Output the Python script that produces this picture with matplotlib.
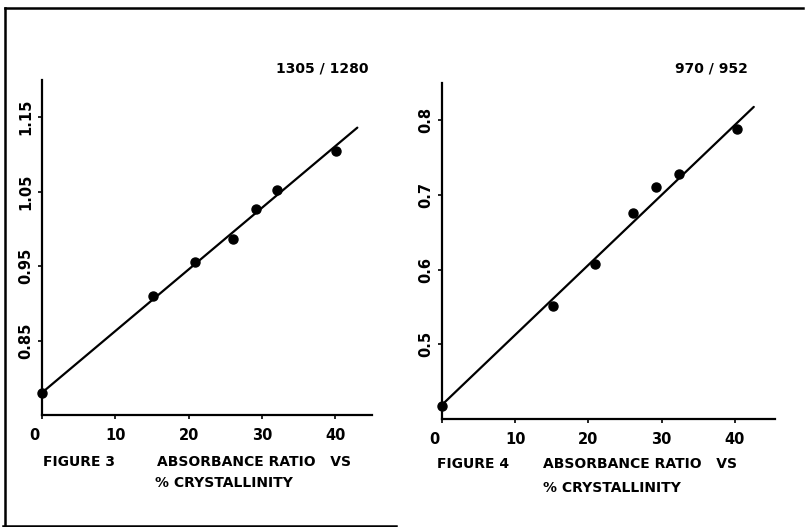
import matplotlib
matplotlib.use("Agg")
import matplotlib.pyplot as plt
import matplotlib.transforms as mtransforms
from matplotlib.lines import Line2D

plt.rcParams['font.family'] = ['DejaVu Sans']

# Figure 3: absorbance ratio 1305/1280 vs % crystallinity
fig3_x = [0, 15.1, 20.8, 26.1, 29.2, 32.0, 40.1]
fig3_y = [0.780, 0.910, 0.956, 0.987, 1.027, 1.052, 1.105]
fig3_fit_x = [0, 43.0]
fig3_fit_y = [0.780, 1.136]
fig3_yticks = [0.85, 0.95, 1.05, 1.15]
fig3_title = "1305 / 1280"

# Figure 4: absorbance ratio 970/952 vs % crystallinity
fig4_x = [0, 15.1, 20.9, 26.1, 29.3, 32.4, 40.3]
fig4_y = [0.418, 0.551, 0.607, 0.676, 0.711, 0.728, 0.789]
fig4_fit_x = [0, 42.6]
fig4_fit_y = [0.419, 0.818]
fig4_yticks = [0.5, 0.6, 0.7, 0.8]
fig4_title = "970 / 952"

xticks = [0, 10, 20, 30, 40]

W, H = 806, 527
fig = plt.figure(figsize=(W / 100, H / 100), dpi=100)
fig.patch.set_facecolor('white')


def px_rect(x0, y0, x1, y1):
    return [x0 / W, (H - y1) / H, (x1 - x0) / W, (y1 - y0) / H]


def style(ax):
    for s in ['top', 'right']:
        ax.spines[s].set_visible(False)
    for s in ['left', 'bottom']:
        ax.spines[s].set_linewidth(1.6)
        ax.spines[s].set_color('black')
    ax.tick_params(axis='both', direction='out', length=3, width=1.2,
                   labelsize=10.5, colors='black')
    ax.tick_params(axis='x', pad=6)
    ax.tick_params(axis='y', pad=3)
    ax.set_xticks(xticks)
    ax.set_xticklabels([str(t) for t in xticks])
    for lab in ax.get_xticklabels() + ax.get_yticklabels():
        lab.set_fontweight('bold')
    for lab in ax.get_yticklabels():
        lab.set_rotation(90)
        lab.set_va('center')
    # the "0" label sits a little left of the origin in the original
    first = ax.get_xticklabels()[0]
    first.set_transform(first.get_transform() +
                        mtransforms.ScaledTranslation(-8 / 100, 0, fig.dpi_scale_trans))
    ax.set_facecolor('none')


ax1 = fig.add_axes(px_rect(42, 80, 372, 415))
ax1.plot(fig3_fit_x, fig3_fit_y, color='black', lw=1.6, solid_capstyle='round')
ax1.plot(fig3_x, fig3_y, 'o', color='black', ms=6.5, clip_on=False)
ax1.set_xlim(0, 45)
ax1.set_ylim(0.75, 1.20)
ax1.set_yticks(fig3_yticks)
ax1.set_yticklabels(["%.2f" % v for v in fig3_yticks])
style(ax1)

ax2 = fig.add_axes(px_rect(442, 83, 775, 419))
ax2.plot(fig4_fit_x, fig4_fit_y, color='black', lw=1.6, solid_capstyle='round')
ax2.plot(fig4_x, fig4_y, 'o', color='black', ms=6.5, clip_on=False)
ax2.set_xlim(0, 45.5)
ax2.set_ylim(0.40, 0.85)
ax2.set_yticks(fig4_yticks)
ax2.set_yticklabels(["%.1f" % v for v in fig4_yticks])
style(ax2)

# titles
fig.text(322 / W, 1 - 69 / H, fig3_title, ha='center', va='center',
         fontsize=10, fontweight='bold')
fig.text(711 / W, 1 - 69 / H, fig4_title, ha='center', va='center',
         fontsize=10, fontweight='bold')

# captions
cap_kw = dict(ha='left', va='center', fontsize=10, fontweight='bold')
fig.text(43 / W, 1 - 462 / H, "FIGURE 3", **cap_kw)
fig.text(157 / W, 1 - 462 / H, "ABSORBANCE RATIO   VS", **cap_kw)
fig.text(155 / W, 1 - 483 / H, "% CRYSTALLINITY", **cap_kw)
fig.text(437 / W, 1 - 464 / H, "FIGURE 4", **cap_kw)
fig.text(543 / W, 1 - 464 / H, "ABSORBANCE RATIO   VS", **cap_kw)
fig.text(543 / W, 1 - 488 / H, "% CRYSTALLINITY", **cap_kw)

# frame lines (open box as in the scanned figure)
frame_kw = dict(color='black', lw=1.8, transform=fig.transFigure)
fig.add_artist(Line2D([5 / W, 803 / W], [1 - 8 / H, 1 - 8 / H], **frame_kw))
fig.add_artist(Line2D([5 / W, 5 / W], [1 - 8 / H, 1 - 526 / H], **frame_kw))
fig.add_artist(Line2D([3 / W, 396 / W], [1 - 525.5 / H, 1 - 525.5 / H], **frame_kw))

fig.savefig("out.png", dpi=100, facecolor='white')
